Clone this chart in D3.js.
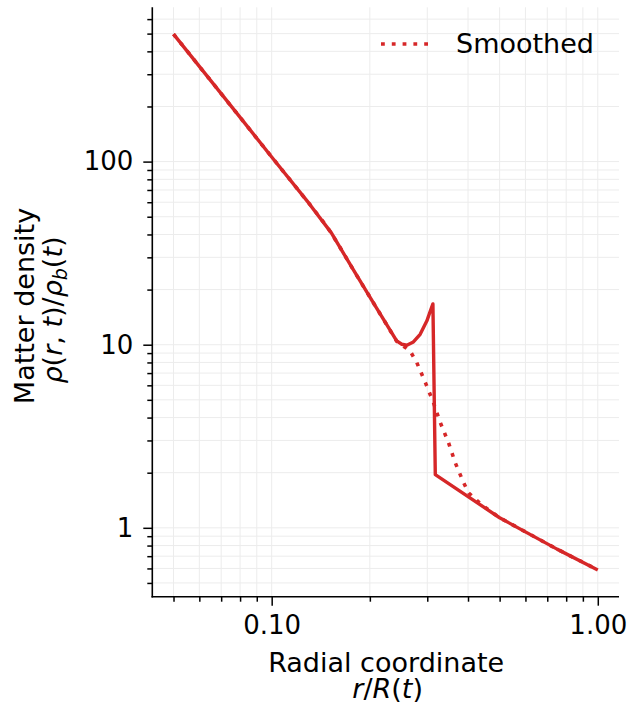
<!DOCTYPE html>
<html>
<head>
<meta charset="utf-8">
<script src="https://cdn.jsdelivr.net/npm/d3@7"></script>
<style>
  body { margin: 0; background: #fff; }
  text { font-family: "DejaVu Sans", sans-serif; fill: #000; }
</style>
</head>
<body>
<svg id="chart" width="629" height="704"></svg>
<script>
// density profile
const radius = [0.05, 0.07, 0.1, 0.13, 0.1524, 0.18, 0.21, 0.2417, 0.2506, 0.2596, 0.272, 0.2853, 0.2992, 0.305, 0.3122, 0.3175, 0.5, 0.75, 1.0];
const density = [497, 235, 106, 59.3, 40.8, 24.8, 15.8, 10.5, 10.06, 9.93, 10.36, 11.4, 13.5, 14.9, 16.7, 1.95, 1.135, 0.765, 0.589];

// smoothed profile (dotted)
const smoothRadius = [0.05, 0.07, 0.1, 0.13, 0.148, 0.16, 0.18, 0.21, 0.2417, 0.2657, 0.2786, 0.296, 0.3135, 0.329, 0.3487, 0.3657, 0.388, 0.402, 0.442, 0.5, 0.75, 1.0];
const smoothDensity = [497, 235, 106, 59.3, 44, 35.3, 24.8, 15.8, 10.45, 9.25, 7.99, 6.21, 4.82, 3.75, 2.91, 2.26, 1.76, 1.55, 1.33, 1.135, 0.765, 0.589];

const xTickValues = [0.1, 1];
const yTickValues = [1, 10, 100];

const plotLeft = 152.3, plotRight = 619, plotTop = 7.3, plotBottom = 596.7;
const red = "#d62728";
const labelSize = "27px";

// matplotlib style 5% margin in log space
function padLog(ext) {
  const a = Math.log10(ext[0]), b = Math.log10(ext[1]), m = (b - a) * 0.05;
  return [Math.pow(10, a - m), Math.pow(10, b + m)];
}

const x = d3.scaleLog().domain(padLog(d3.extent(radius))).range([plotLeft, plotRight]);
const y = d3.scaleLog().domain(padLog(d3.extent(density))).range([plotBottom, plotTop]);

const svg = d3.select("#chart");

// grid (major + minor)
const grid = svg.append("g");
grid.selectAll("line.vx").data(x.ticks()).join("line")
    .attr("x1", d => x(d)).attr("x2", d => x(d))
    .attr("y1", plotTop).attr("y2", plotBottom)
    .attr("stroke", "#ececec").attr("stroke-width", 1);
grid.selectAll("line.hy").data(y.ticks()).join("line")
    .attr("y1", d => y(d)).attr("y2", d => y(d))
    .attr("x1", plotLeft).attr("x2", plotRight)
    .attr("stroke", "#ececec").attr("stroke-width", 1);

// lines
const line = d3.line().x(d => x(d[0])).y(d => y(d[1]));

svg.append("path")
    .datum(d3.zip(radius, density))
    .attr("d", line)
    .attr("fill", "none")
    .attr("stroke", red)
    .attr("stroke-width", 3.4)
    .attr("stroke-linejoin", "round");

svg.append("path")
    .datum(d3.zip(smoothRadius, smoothDensity))
    .attr("d", line)
    .attr("fill", "none")
    .attr("stroke", red)
    .attr("stroke-width", 3.6)
    .attr("stroke-dasharray", "3.8,7");

// axes
const minorX = x.ticks().filter(d => !xTickValues.some(v => Math.abs(v - d) < 1e-9));
const minorY = y.ticks().filter(d => !yTickValues.some(v => Math.abs(v - d) < 1e-9));

const xAxis = svg.append("g").attr("transform", `translate(0,${plotBottom})`);
xAxis.call(d3.axisBottom(x).tickValues(minorX).tickSize(5).tickFormat(""));
xAxis.append("g").call(d3.axisBottom(x).tickValues(xTickValues).tickSize(9).tickPadding(10).tickFormat(d3.format(".2f")));

const yAxis = svg.append("g").attr("transform", `translate(${plotLeft},0)`);
yAxis.call(d3.axisLeft(y).tickValues(minorY).tickSize(5).tickFormat(""));
yAxis.append("g").call(d3.axisLeft(y).tickValues(yTickValues).tickSize(9).tickPadding(10).tickFormat(d3.format("d")));

svg.selectAll(".domain").remove();
svg.selectAll(".tick line").attr("stroke", "#000").attr("stroke-width", 1.5);
svg.selectAll(".tick text").style("font-size", "26px").style("font-family", "DejaVu Sans");

// spines
svg.append("line").attr("x1", plotLeft).attr("x2", plotLeft).attr("y1", plotTop).attr("y2", plotBottom + 0.8)
    .attr("stroke", "#000").attr("stroke-width", 1.6);
svg.append("line").attr("x1", plotLeft - 0.8).attr("x2", plotRight).attr("y1", plotBottom).attr("y2", plotBottom)
    .attr("stroke", "#000").attr("stroke-width", 1.6);

// x label, two lines in one text element
const xMid = (plotLeft + plotRight) / 2;
const xl = svg.append("text").attr("text-anchor", "middle").style("font-size", labelSize);
xl.append("tspan").attr("x", xMid + 0.5).attr("y", 672).text("Radial coordinate");
const xl2 = xl.append("tspan").attr("x", xMid + 2).attr("y", 697.5);
xl2.append("tspan").attr("font-style", "italic").text("r");
xl2.append("tspan").text("/");
xl2.append("tspan").attr("font-style", "italic").text("R");
xl2.append("tspan").text("(");
xl2.append("tspan").attr("font-style", "italic").text("t");
xl2.append("tspan").text(")");

// y label, two lines in one rotated text element
const yc = (plotTop + plotBottom) / 2 + 4;
const yl = svg.append("text").attr("transform", `translate(34,${yc}) rotate(-90)`)
    .attr("text-anchor", "middle").style("font-size", labelSize);
yl.append("tspan").attr("x", 0).attr("y", 0).text("Matter density");
const yl2 = yl.append("tspan").attr("x", -4).attr("y", 28);
yl2.append("tspan").attr("font-style", "italic").text("ρ");
yl2.append("tspan").text("(");
yl2.append("tspan").attr("font-style", "italic").text("r");
yl2.append("tspan").text(", ");
yl2.append("tspan").attr("font-style", "italic").text("t");
yl2.append("tspan").text(")/");
yl2.append("tspan").attr("font-style", "italic").text("ρ");
yl2.append("tspan").attr("font-style", "italic").attr("dy", 5).style("font-size", "19px").text("b");
yl2.append("tspan").attr("dy", -5).text("(");
yl2.append("tspan").attr("font-style", "italic").text("t");
yl2.append("tspan").text(")");

// legend
const legend = svg.append("g");
legend.append("line").attr("x1", 381).attr("x2", 435).attr("y1", 44).attr("y2", 44)
    .attr("stroke", red).attr("stroke-width", 3.6).attr("stroke-dasharray", "3.8,7");
legend.append("text").attr("x", 456).attr("y", 44).attr("dy", "0.35em")
    .style("font-size", labelSize).text("Smoothed");
</script>
</body>
</html>
